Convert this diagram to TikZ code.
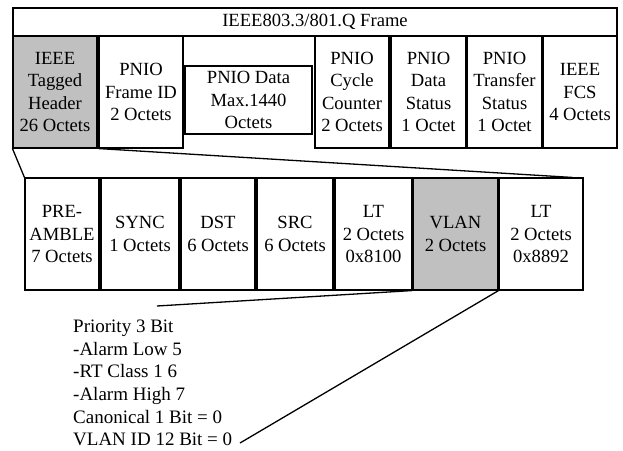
\documentclass[tikz,border=0pt]{standalone}
\usepackage{fontspec}
\setmainfont{Liberation Serif}
\usetikzlibrary{calc}
\definecolor{hdrgray}{RGB}{192,192,192}
\tikzset{
  field/.style={draw, line width=1.1pt, inner sep=0pt, align=center,
    font=\fontsize{18.6}{22.5}\selectfont},
  shaded/.style={field, fill=hdrgray},
  zoomline/.style={line width=1.3pt}
}
\begin{document}
\begin{tikzpicture}[x=1pt,y=-1pt]
\useasboundingbox (0,0) rectangle (623,450);
% frame title bar
\node[field, minimum width=604pt, minimum height=28pt] (title) at (315,22) {IEEE803.3/801.Q Frame};
% frame fields
\node[shaded, minimum width=84pt, minimum height=112pt] (hdr) at (55,92) {IEEE\\Tagged\\Header\\26 Octets};
\node[field, minimum width=84pt, minimum height=112pt] (fid) at (141,92) {PNIO\\Frame ID\\2 Octets};
\node[field, minimum width=127pt, minimum height=68pt] (data) at (248.5,100) {PNIO Data\\Max.1440\\Octets};
\node[field, minimum width=74pt, minimum height=112pt] (cyc) at (352,92) {PNIO\\Cycle\\Counter\\2 Octets};
\node[field, minimum width=75pt, minimum height=112pt] (dstat) at (428.5,92) {PNIO\\Data\\Status\\1 Octet};
\node[field, minimum width=75pt, minimum height=112pt] (tstat) at (504.5,92) {PNIO\\Transfer\\Status\\1 Octet};
\node[field, minimum width=74pt, minimum height=112pt] (fcs) at (580,92) {IEEE\\FCS\\4 Octets};
% tagged header fields
\node[field, minimum width=74pt, minimum height=112pt] (pre) at (62,234) {PRE-\\AMBLE\\7 Octets};
\node[field, minimum width=78pt, minimum height=112pt] (sync) at (140,234) {SYNC\\1 Octets};
\node[field, minimum width=74pt, minimum height=112pt] (dst) at (218,234) {DST\\6 Octets};
\node[field, minimum width=76pt, minimum height=112pt] (src) at (295,234) {SRC\\6 Octets};
\node[field, minimum width=77pt, minimum height=112pt] (lta) at (373.5,234) {LT\\2 Octets\\0x8100};
\node[shaded, minimum width=85pt, minimum height=112pt] (vlan) at (455.5,234) {VLAN\\2 Octets};
\node[field, minimum width=84pt, minimum height=112pt] (ltb) at (541,234) {LT\\2 Octets\\0x8892};
% VLAN tag contents
\node[anchor=west, align=left, inner sep=0pt, font=\fontsize{19}{22.7}\selectfont] (tag) at (73,383)
  {Priority 3 Bit\\-Alarm Low 5\\-RT Class 1 6\\-Alarm High 7\\Canonical 1 Bit = 0\\VLAN ID 12 Bit = 0};
% expansion lines
\coordinate (hdrend) at ($(ltb.north east)+(-11,0)$);
\coordinate (tagtop) at (157,306);
\coordinate (tagend) at (240,443);
\draw[zoomline] (hdr.south west) -- (pre.north west);
\draw[zoomline] (fid.south west) -- (hdrend);
\draw[zoomline] (vlan.south west) -- (tagtop);
\draw[zoomline] (vlan.south east) -- (tagend);
\end{tikzpicture}
\end{document}
